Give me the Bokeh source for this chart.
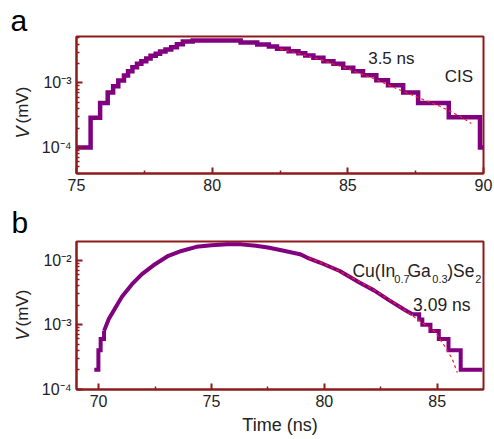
import math
from bokeh.plotting import figure
from bokeh.layouts import column, row
from bokeh.models import Range1d, FixedTicker, CustomJSTickFormatter
from bokeh.embed import file_html
from bokeh.resources import INLINE
from bokeh.core.properties import value

# ---------------- data: panel a (CIS) ----------------
# staircase: each value holds from its time to the next time
t_a = [75.0, 75.52, 75.87, 76.15, 76.35, 76.54, 76.75, 76.9, 77.06, 77.23, 77.39, 77.57,
       77.73, 77.92, 78.08, 78.28, 78.49, 78.7, 78.92, 79.28, 81.05, 81.66, 82.09, 82.39,
       82.82, 83.18, 83.43, 83.73, 84.1, 84.47, 84.83, 85.2, 85.56, 86.05, 86.48, 87.04,
       87.59, 88.72, 89.87, 90.0]
v_a = [1.0e-4, 2.9e-4, 4.9e-4, 7.1e-4, 8.9e-4, 1.09e-3, 1.31e-3, 1.52e-3, 1.76e-3, 1.99e-3,
       2.18e-3, 2.4e-3, 2.64e-3, 2.84e-3, 3.08e-3, 3.3e-3, 3.59e-3, 4.0e-3, 4.4e-3, 4.56e-3,
       4.25e-3, 3.95e-3, 3.68e-3, 3.39e-3, 3.11e-3, 2.9e-3, 2.67e-3, 2.46e-3, 2.18e-3, 1.99e-3,
       1.72e-3, 1.52e-3, 1.32e-3, 1.1e-3, 9.2e-4, 7.1e-4, 4.9e-4, 2.95e-4, 1.0e-4, 1.0e-4]
t_fit_a = [82.5, 83.0, 84.0, 85.0, 86.0, 86.96, 87.7, 88.43, 89.16, 89.55]
v_fit_a = [3.35e-3, 3.0e-3, 2.3e-3, 1.65e-3, 1.15e-3, 7.65e-4, 5.7e-4, 4.3e-4, 3.0e-4, 2.35e-4]

# ---------------- data: panel b (Cu(In0.7Ga0.3)Se2) ----------------
t_b_head = [69.81, 69.99, 70.09, 70.24]
v_b_head = [2e-4, 4e-4, 6e-4, 8e-4]
t_b_mid = [70.24, 70.45, 70.75, 71.04, 71.48, 71.92, 72.5, 73.09, 73.67, 74.33, 75.0, 75.7,
           76.3, 76.96, 77.5, 78.15, 78.92, 79.23, 79.8, 80.68, 81.55, 82.2, 82.86, 83.55, 83.9]
v_b_mid = [8e-4, 1.22e-3, 1.85e-3, 2.74e-3, 4.25e-3, 6.07e-3, 8.67e-3, 1.17e-2, 1.39e-2,
           1.61e-2, 1.71e-2, 1.76e-2, 1.76e-2, 1.68e-2, 1.57e-2, 1.41e-2, 1.24e-2, 1.1e-2,
           9.2e-3, 6.8e-3, 4.5e-3, 3.4e-3, 2.4e-3, 1.7e-3, 1.45e-3]
t_b_tail = [83.9, 84.2, 84.34, 84.7, 85.07, 85.5, 86.04, 87.0]
v_b_tail = [1.45e-3, 1.2e-3, 1.0e-3, 8e-4, 6e-4, 4e-4, 2e-4, 2e-4]
t_fit_b = [79.3, 80.0, 81.0, 82.0, 83.0, 84.0, 84.94, 85.16, 85.38, 85.67, 85.89]
v_fit_b = [1.08e-2, 8.7e-3, 5.9e-3, 3.8e-3, 2.3e-3, 1.3e-3, 7.6e-4, 5.6e-4, 4.4e-4, 2.9e-4, 1.8e-4]

# tick positions
xt_a = [75, 80, 85, 90]
xm_a = [77.5, 82.5, 87.5]
xt_b = [70, 75, 80, 85]
xm_b = [72.5, 77.5, 82.5]
yt_a = [1e-4, 1e-3]
yt_b = [1e-4, 1e-3, 1e-2]

AX = "#8E1B1B"
PURPLE = "#800080"
FONT = "Liberation Sans"
TXT = "#222222"
LW = 38  # width of the strip that carries the panel letters and y titles
H = 439


def minor_log(lo_exp, hi_exp):
    out = []
    for e in range(lo_exp, hi_exp):
        for m in range(2, 10):
            out.append(m * 10.0 ** e)
    return out


fmt = CustomJSTickFormatter(code="""
const e = Math.round(Math.log10(tick));
const sup = {'-':'\u207b','0':'\u2070','1':'\u00b9','2':'\u00b2','3':'\u00b3','4':'\u2074',
             '5':'\u2075','6':'\u2076','7':'\u2077','8':'\u2078','9':'\u2079'};
return '10' + String(e).split('').map(c => sup[c]).join('');
""")


def style(p):
    p.outline_line_color = AX
    p.outline_line_width = 2
    p.xgrid.visible = False
    p.ygrid.visible = False
    p.background_fill_color = "white"
    p.border_fill_color = "white"
    for ax in (p.xaxis[0], p.yaxis[0]):
        ax.axis_line_color = AX
        ax.axis_line_width = 2
        ax.major_tick_line_color = AX
        ax.minor_tick_line_color = AX
        ax.major_tick_line_width = 2
        ax.minor_tick_line_width = 1.5
        ax.major_tick_in = 6
        ax.major_tick_out = 0
        ax.minor_tick_in = 3
        ax.minor_tick_out = 0
        ax.major_label_text_font = FONT
        ax.major_label_text_font_size = "16px"
        ax.major_label_text_color = TXT
        ax.major_label_standoff = 5
    p.yaxis[0].formatter = fmt


# ---------------- left strip: panel letters and y titles (coordinates = pixels, y down) ----
s = figure(width=LW, height=H, output_backend="svg", toolbar_location=None,
           x_range=Range1d(0, LW), y_range=Range1d(H, 0),
           min_border=0, min_border_left=0, min_border_right=0,
           min_border_top=0, min_border_bottom=0)
s.axis.visible = False
s.grid.visible = False
s.outline_line_color = None
s.background_fill_color = "white"
s.border_fill_color = "white"
s.text(x=[10, 11], y=[20, 222], text=["a", "b"], text_font=value(FONT),
       text_font_size="30px", text_color="#000000", text_baseline="alphabetic")
s.text(x=[22, 22], y=[138, 340], text=["V", "V"], text_font=value(FONT), text_font_size="18px",
       text_font_style="italic", text_color=TXT, text_baseline="alphabetic", angle=math.pi / 2)
s.text(x=[22, 22], y=[123, 326], text=["(mV)", "(mV)"], text_font=value(FONT),
       text_font_size="17px", text_color=TXT, text_baseline="alphabetic", angle=math.pi / 2)

# ---------------- panel a ----------------
pa = figure(width=494 - LW, height=200, y_axis_type="log", output_backend="svg",
            toolbar_location=None, x_range=Range1d(75.0, 90.0), y_range=Range1d(3.95e-5, 5.26e-3),
            min_border_left=73 - LW, min_border_right=11, min_border_top=36, min_border_bottom=27)
style(pa)
pa.xaxis[0].ticker = FixedTicker(ticks=xt_a, minor_ticks=xm_a)
pa.yaxis[0].ticker = FixedTicker(ticks=yt_a, minor_ticks=minor_log(-5, -2))
pa.step(t_a, v_a, mode="after", line_color=PURPLE, line_width=4.5, line_join="miter")
pa.line(t_fit_a, v_fit_a, line_color="#FF2020", line_width=1.2, line_dash="3 3")
pa.text(x=[85.75], y=[2.38e-3], text=["3.5 ns"], text_font=value(FONT), text_font_size="17px",
        text_color=TXT, text_baseline="alphabetic")
pa.text(x=[88.57], y=[1.24e-3], text=["CIS"], text_font=value(FONT), text_font_size="17px",
        text_color=TXT, text_baseline="alphabetic")

# ---------------- panel b ----------------
pb = figure(width=494 - LW, height=239, y_axis_type="log", output_backend="svg",
            toolbar_location=None, x_range=Range1d(69.02, 87.05), y_range=Range1d(0.985e-4, 1.95e-2),
            min_border_left=74 - LW, min_border_right=9, min_border_top=41, min_border_bottom=50)
style(pb)
pb.xaxis[0].ticker = FixedTicker(ticks=xt_b, minor_ticks=xm_b)
pb.yaxis[0].ticker = FixedTicker(ticks=yt_b, minor_ticks=minor_log(-4, -1))
pb.xaxis[0].axis_label = "Time (ns)"
pb.xaxis[0].axis_label_text_font = FONT
pb.xaxis[0].axis_label_text_font_size = "18px"
pb.xaxis[0].axis_label_text_font_style = "normal"
pb.xaxis[0].axis_label_text_color = TXT
pb.xaxis[0].axis_label_standoff = 5
pb.step(t_b_head, v_b_head, mode="after", line_color=PURPLE, line_width=4, line_join="miter")
pb.line(t_b_mid, v_b_mid, line_color=PURPLE, line_width=4, line_join="round")
pb.step(t_b_tail, v_b_tail, mode="after", line_color=PURPLE, line_width=4, line_join="miter")
pb.line(t_fit_b, v_fit_b, line_color="#FF2020", line_width=1.2, line_dash="3 3")

main_y = 6.88e-3
sub_y = 5.06e-3
for (tx, ty, tt, fs) in [(81.245, main_y, "Cu(In", "17.5px"), (83.10, sub_y, "0.7", "11px"),
                         (83.68, main_y, "Ga", "17.5px"), (84.78, sub_y, "0.3", "11px"),
                         (85.44, main_y, ")Se", "17.5px"), (86.68, sub_y, "2", "11px")]:
    pb.text(x=[tx], y=[ty], text=[tt], text_font=value(FONT), text_font_size=fs,
            text_color=TXT, text_baseline="alphabetic")
pb.text(x=[83.93], y=[2.02e-3], text=["3.09 ns"], text_font=value(FONT), text_font_size="17.5px",
        text_color=TXT, text_baseline="alphabetic")

layout = row(s, column(pa, pb, spacing=0), spacing=0)
open("out.html", "w").write(file_html(layout, INLINE))
